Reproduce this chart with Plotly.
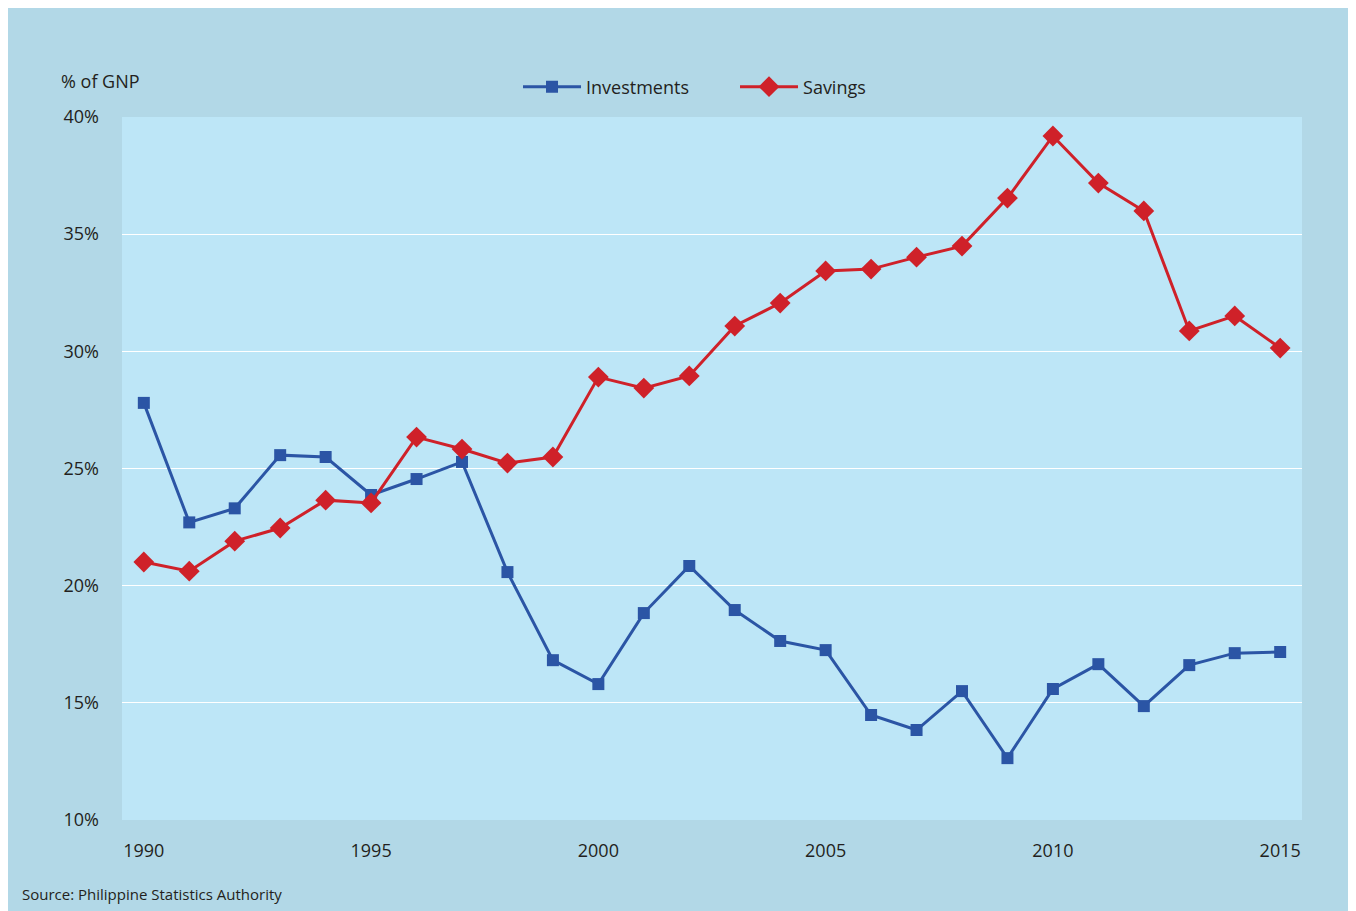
import plotly.graph_objects as go

years = list(range(1990, 2016))
investments = [27.8, 22.7, 23.3, 25.57, 25.49, 23.87, 24.55, 25.28, 20.58, 16.82,
               15.8, 18.83, 20.84, 18.96, 17.64, 17.25, 14.48, 13.84, 15.5, 12.64,
               15.59, 16.65, 14.86, 16.61, 17.12, 17.17]
savings = [21.01, 20.62, 21.9, 22.46, 23.65, 23.53, 26.34, 25.83, 25.23, 25.49,
           28.9, 28.43, 28.95, 31.08, 32.06, 33.43, 33.51, 34.02, 34.49, 36.54,
           39.19, 37.18, 35.99, 30.87, 31.51, 30.14]
y_ticks = [10, 15, 20, 25, 30, 35, 40]
y_ticklabels = ["10%", "15%", "20%", "25%", "30%", "35%", "40%"]
x_ticks = [1990, 1995, 2000, 2005, 2010, 2015]

FONT = "Open Sans"
TXT = "#231f20"
BLUE = "#2b55a5"
RED = "#cf2129"

fig = go.Figure()
fig.add_trace(go.Scatter(x=years, y=investments, name="Investments", mode="lines+markers",
                         line=dict(color=BLUE, width=3),
                         marker=dict(symbol="square", size=12, color=BLUE)))
fig.add_trace(go.Scatter(x=years, y=savings, name="Savings", mode="lines+markers",
                         line=dict(color=RED, width=3),
                         marker=dict(symbol="diamond", size=16, color=RED)))

fig.add_annotation(text="% of GNP", xref="paper", yref="paper", x=-0.0534, y=1.0512,
                   xanchor="left", yanchor="middle", showarrow=False,
                   font=dict(family=FONT, size=18, color=TXT))
fig.add_annotation(text="Source: Philippine Statistics Authority", xref="paper", yref="paper",
                   x=-0.0864, y=-0.1053, xanchor="left", yanchor="middle", showarrow=False,
                   font=dict(family=FONT, size=15, color=TXT))

fig.update_layout(
    width=1348, height=903,
    margin=dict(l=114, r=54, t=109, b=91),
    paper_bgcolor="#b2d8e7",
    plot_bgcolor="#bde6f7",
    font=dict(family=FONT, size=18, color=TXT),
    showlegend=True,
    legend=dict(orientation="h", x=0.3356, y=1.0427, xanchor="left", yanchor="middle",
                bgcolor="rgba(0,0,0,0)", font=dict(family=FONT, size=18, color=TXT),
                itemwidth=58, entrywidth=144),
    xaxis=dict(range=[1989.52, 2015.48], tickvals=x_ticks, showgrid=False, zeroline=False,
               showline=False, ticks="", ticklabelstandoff=18),
    yaxis=dict(range=[10, 40], tickvals=y_ticks, ticktext=y_ticklabels, showgrid=True,
               gridcolor="white", gridwidth=1, zeroline=False, showline=False, ticks="",
               ticklabelstandoff=22),
)

fig.write_html("out.html")
